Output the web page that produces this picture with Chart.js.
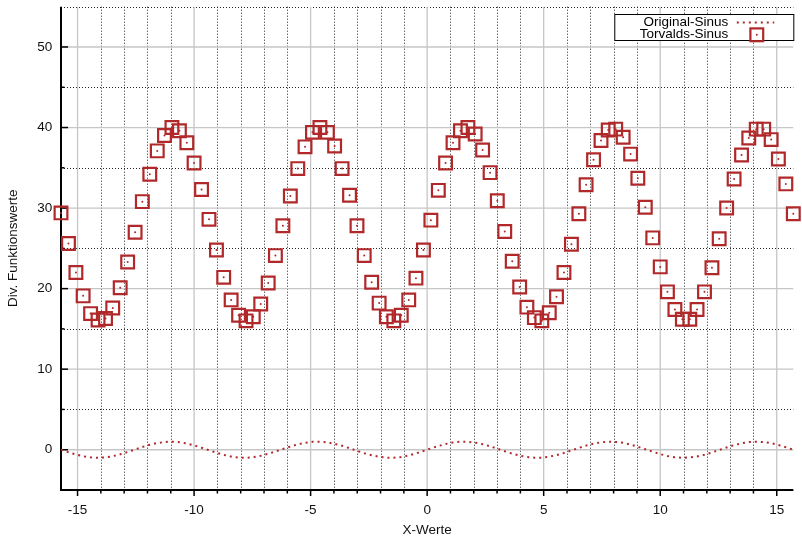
<!DOCTYPE html>
<html>
<head>
<meta charset="utf-8">
<script src="https://cdn.jsdelivr.net/npm/chart.js@4.4.1/dist/chart.umd.min.js"></script>
<style>
    body { margin: 0; background: #fff; }
</style>
</head>
<body>
<canvas id="sinus-chart" width="802" height="538"></canvas>
<script>
// X-Werte (100 Stützstellen von -5pi bis 5pi)
const xValues = [
    -15.71, -15.39, -15.07, -14.76, -14.44, -14.12, -13.80, -13.49, -13.17, -12.85,
    -12.53, -12.22, -11.90, -11.58, -11.27, -10.95, -10.63, -10.31, -10.00, -9.68,
    -9.36, -9.04, -8.73, -8.41, -8.09, -7.77, -7.46, -7.14, -6.82, -6.51,
    -6.19, -5.87, -5.55, -5.24, -4.92, -4.60, -4.28, -3.97, -3.65, -3.33,
    -3.01, -2.70, -2.38, -2.06, -1.75, -1.43, -1.11, -0.79, -0.48, -0.16,
    0.16, 0.48, 0.79, 1.11, 1.43, 1.75, 2.06, 2.38, 2.70, 3.01,
    3.33, 3.65, 3.97, 4.28, 4.60, 4.92, 5.24, 5.55, 5.87, 6.19,
    6.51, 6.82, 7.14, 7.46, 7.77, 8.09, 8.41, 8.73, 9.04, 9.36,
    9.68, 10.00, 10.31, 10.63, 10.95, 11.27, 11.58, 11.90, 12.22, 12.53,
    12.85, 13.17, 13.49, 13.80, 14.12, 14.44, 14.76, 15.07, 15.39, 15.71
];

const originalSinus = [
    0, -0.31, -0.59, -0.81, -0.95, -1.00, -0.95, -0.80, -0.57, -0.28,
    0.03, 0.34, 0.62, 0.83, 0.96, 1.00, 0.93, 0.78, 0.54, 0.25,
    -0.06, -0.37, -0.64, -0.85, -0.97, -1.00, -0.92, -0.76, -0.51, -0.22,
    0.09, 0.40, 0.67, 0.87, 0.98, 0.99, 0.91, 0.73, 0.49, 0.19,
    -0.13, -0.43, -0.69, -0.88, -0.98, -0.99, -0.90, -0.71, -0.46, -0.16,
    0.16, 0.46, 0.71, 0.90, 0.99, 0.98, 0.88, 0.69, 0.43, 0.13,
    -0.19, -0.49, -0.73, -0.91, -0.99, -0.98, -0.87, -0.67, -0.40, -0.09,
    0.22, 0.51, 0.76, 0.92, 1.00, 0.97, 0.85, 0.64, 0.37, 0.06,
    -0.25, -0.54, -0.78, -0.93, -1.00, -0.96, -0.83, -0.62, -0.34, -0.03,
    0.28, 0.57, 0.80, 0.95, 1.00, 0.95, 0.81, 0.59, 0.31, 0
];

const torvaldsSinus = [
    29.4, 25.6, 22.0, 19.1, 16.9, 16.1, 16.3, 17.6, 20.1, 23.3,
    27.0, 30.8, 34.2, 37.1, 39.0, 40.0, 39.6, 38.1, 35.6, 32.3,
    28.6, 24.8, 21.4, 18.6, 16.7, 16.0, 16.5, 18.1, 20.7, 24.1,
    27.8, 31.5, 34.9, 37.6, 39.4, 40.0, 39.4, 37.7, 34.9, 31.6,
    27.8, 24.1, 20.8, 18.2, 16.5, 16.0, 16.7, 18.6, 21.3, 24.8,
    28.5, 32.2, 35.6, 38.1, 39.6, 40.0, 39.2, 37.2, 34.4, 30.9,
    27.1, 23.4, 20.2, 17.7, 16.4, 16.0, 17.0, 19.0, 22.0, 25.5,
    29.3, 32.9, 36.0, 38.4, 39.7, 39.8, 38.8, 36.7, 33.7, 30.1,
    26.3, 22.7, 19.6, 17.4, 16.2, 16.2, 17.4, 19.6, 22.6, 26.2,
    30.0, 33.6, 36.6, 38.7, 39.8, 39.8, 38.5, 36.1, 33.0, 29.3
];

const xTicks = [-15, -10, -5, 0, 5, 10, 15];
const yTicks = [0, 10, 20, 30, 40, 50];

const RED = "#b0282a";
const FONT = { family: '"Liberation Sans", Arial, sans-serif', size: 13.5 };
Chart.defaults.font.family = FONT.family;

// gnuplot style grid, axes and tics
const gnuplotGrid = {
    id: "gnuplotGrid",
    beforeDatasetsDraw: function (chart) {
        const ctx = chart.ctx;
        const a = chart.chartArea;
        const x = chart.scales.x;
        const y = chart.scales.y;
        function line(x1, y1, x2, y2) {
            ctx.beginPath();
            ctx.moveTo(x1, y1);
            ctx.lineTo(x2, y2);
            ctx.stroke();
        }
        ctx.save();

        // minor grid, dotted
        ctx.strokeStyle = "#222";
        ctx.lineWidth = 1;
        ctx.setLineDash([1, 2]);
        for (let v = Math.ceil(x.min); v <= x.max; v++) {
            if (v % 5 === 0) continue;
            const px = Math.round(x.getPixelForValue(v)) + 0.5;
            line(px, a.top, px, a.bottom);
        }
        for (let v = y.min; v <= y.max; v += 10) {
            const py = Math.round(y.getPixelForValue(v)) + 0.5;
            line(a.left, py, a.right, py);
        }

        // major grid, grey
        ctx.setLineDash([]);
        ctx.strokeStyle = "#c6c6c6";
        ctx.lineWidth = 1.3;
        xTicks.forEach(function (v) {
            const px = x.getPixelForValue(v);
            line(px, a.top, px, a.bottom);
        });
        yTicks.forEach(function (v) {
            const py = y.getPixelForValue(v);
            line(a.left, py, a.right, py);
        });

        // axes
        ctx.strokeStyle = "#000";
        ctx.lineWidth = 2;
        line(a.left, a.top, a.left, a.bottom + 1);
        line(a.left - 1, a.bottom, a.right, a.bottom);

        // tics
        ctx.lineWidth = 1.5;
        for (let v = y.min + 5; v < y.max; v += 5) {
            const py = y.getPixelForValue(v);
            line(a.left, py, a.left + (v % 10 === 0 ? 7 : 3.5), py);
        }
        for (let v = Math.ceil(x.min); v <= x.max; v++) {
            const px = x.getPixelForValue(v);
            line(px, a.bottom, px, a.bottom + (v % 5 === 0 ? 6 : 3.5));
        }
        ctx.restore();
    }
};

// legend box in the upper right corner (key of gnuplot)
const gnuplotKey = {
    id: "gnuplotKey",
    afterDraw: function (chart) {
        const ctx = chart.ctx;
        const a = chart.chartArea;
        const ds = chart.data.datasets;
        const right = a.right + 1;
        const left = right - 180;
        const top = a.top + 7.3;
        const bottom = top + 27;
        ctx.save();
        ctx.fillStyle = "#fff";
        ctx.fillRect(left, top, right - left, bottom - top);
        ctx.strokeStyle = "#000";
        ctx.lineWidth = 1;
        ctx.strokeRect(left + 0.5, top + 0.5, right - left - 1, bottom - top - 1);

        ctx.fillStyle = "#000";
        ctx.font = FONT.size + "px " + FONT.family;
        ctx.textAlign = "right";
        ctx.textBaseline = "alphabetic";
        ctx.fillText(ds[0].label, right - 66, top + 12.3);
        ctx.fillText(ds[1].label, right - 66, top + 24.3);

        // samples
        ctx.strokeStyle = RED;
        ctx.lineWidth = 2;
        ctx.setLineDash([2, 4]);
        ctx.beginPath();
        ctx.moveTo(right - 57.5, top + 8.5);
        ctx.lineTo(right - 20, top + 8.5);
        ctx.stroke();
        ctx.setLineDash([]);
        ctx.lineWidth = 2.2;
        const cx = right - 37.5;
        const cy = top + 20.8;
        ctx.strokeRect(cx - 6.4, cy - 6.4, 12.8, 12.8);
        ctx.fillStyle = RED;
        ctx.beginPath();
        ctx.arc(cx, cy, 1, 0, Math.PI * 2);
        ctx.fill();
        ctx.restore();
    }
};

function noPadding(s) {
    s.paddingTop = 0;
    s.paddingBottom = 0;
    s.paddingLeft = 0;
    s.paddingRight = 0;
}

const original = xValues.map(function (v, i) { return { x: v, y: originalSinus[i] }; });
const torvalds = xValues.map(function (v, i) { return { x: v, y: torvaldsSinus[i] }; });

var ctx = document.getElementById("sinus-chart").getContext("2d");
new Chart(ctx, {
    type: "scatter",
    data: {
        datasets: [{
            label: "Original-Sinus",
            data: original,
            showLine: true,
            borderColor: RED,
            borderWidth: 2,
            borderDash: [2, 4],
            borderCapStyle: "butt",
            pointRadius: 0,
            fill: false
        }, {
            label: "Torvalds-Sinus",
            data: torvalds,
            pointStyle: "rect",
            pointRadius: 9,
            borderColor: RED,
            borderWidth: 2.2,
            backgroundColor: "rgba(0,0,0,0)",
            clip: false
        }, {
            label: "Torvalds-Sinus Mitte",
            data: torvalds,
            pointStyle: "circle",
            pointRadius: 1,
            borderWidth: 0,
            backgroundColor: RED,
            clip: false
        }]
    },
    options: {
        responsive: false,
        animation: false,
        events: [],
        layout: { autoPadding: false, padding: { top: 6.7, right: 8.7, left: 0, bottom: 0 } },
        plugins: {
            legend: { display: false },
            tooltip: { enabled: false }
        },
        scales: {
            x: {
                type: "linear",
                min: -15.71,
                max: 15.71,
                afterBuildTicks: function (s) { s.ticks = xTicks.map(function (v) { return { value: v }; }); },
                afterFit: function (s) { s.height = 48; noPadding(s); },
                grid: { display: false, drawTicks: false },
                border: { display: false },
                ticks: { color: "#111", font: FONT, padding: 12.5, maxRotation: 0 },
                title: { display: true, text: "X-Werte", color: "#111", font: FONT, padding: { top: 0, bottom: 0 } }
            },
            y: {
                type: "linear",
                min: -5,
                max: 55,
                afterBuildTicks: function (s) { s.ticks = yTicks.map(function (v) { return { value: v }; }); },
                afterFit: function (s) { s.width = 61; noPadding(s); },
                grid: { display: false, drawTicks: false },
                border: { display: false },
                ticks: { color: "#111", font: FONT, padding: 8.7 },
                title: { display: true, text: "Div. Funktionswerte", color: "#111", font: FONT, padding: { top: 5.4, bottom: 0 } }
            }
        }
    },
    plugins: [gnuplotGrid, gnuplotKey]
});
</script>
</body>
</html>
